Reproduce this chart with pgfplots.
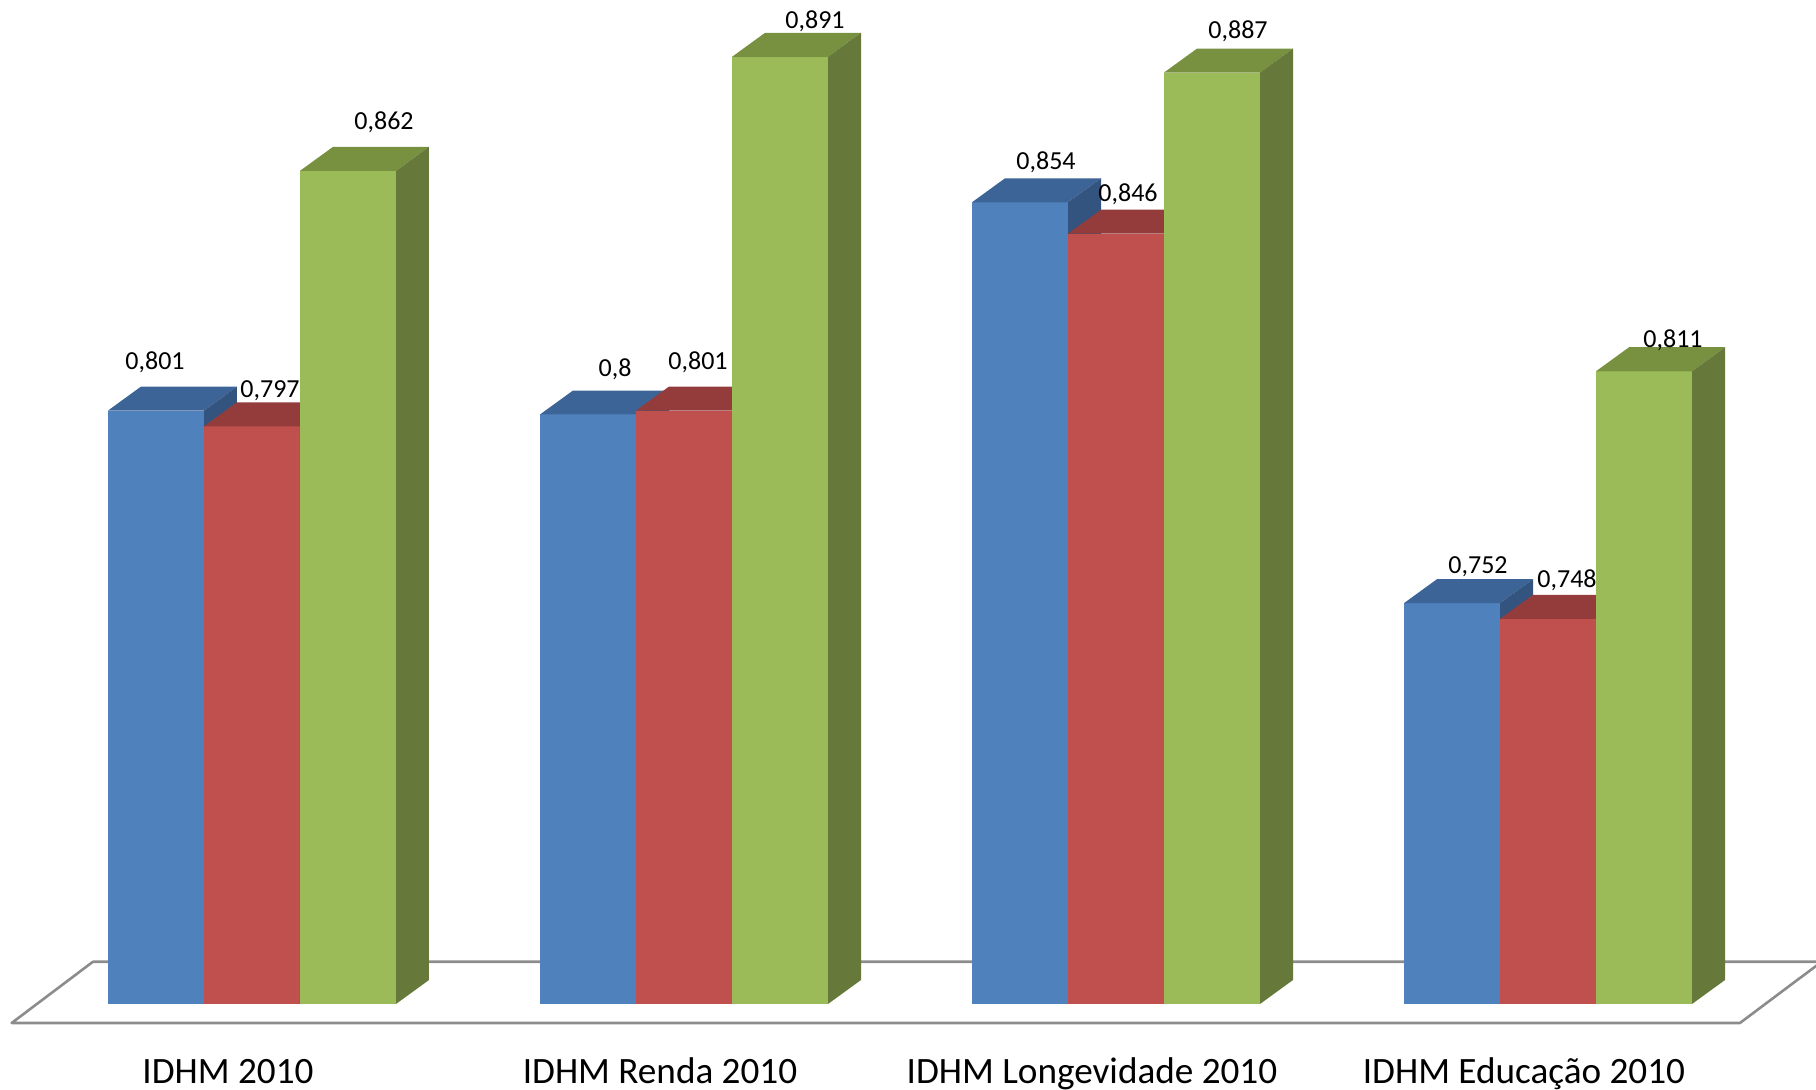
\documentclass[border=0pt]{standalone}
\usepackage{pgfplots}
\usepackage{pgfplotstable}
\pgfplotsset{compat=1.18}
\usepackage{fontspec}
\setmainfont{Carlito}

\definecolor{bfront}{HTML}{4F81BD}
\definecolor{btop}{HTML}{3D6496}
\definecolor{bside}{HTML}{33547E}
\definecolor{rfront}{HTML}{C0504D}
\definecolor{rtop}{HTML}{943C3B}
\definecolor{rside}{HTML}{7F3230}
\definecolor{gfront}{HTML}{9BBB59}
\definecolor{gtop}{HTML}{789140}
\definecolor{gside}{HTML}{66793A}
\definecolor{floorgray}{HTML}{8C8C8C}

% values per category (rows 0..3)
\pgfplotstableread{
cat blue red green
0 0.801 0.797 0.862
1 0.800 0.801 0.891
2 0.854 0.846 0.887
3 0.752 0.748 0.811
}\idhm

% data labels: x = front-face centre, v = value, dx/up = offset in px
\pgfplotstableread{
x v dx up lab
-0.2222 0.801 -1 48.6 0,801
0.0000 0.797 18 36 0,797
0.2222 0.862 36 49 0,862
0.7778 0.800 27 45.5 0,8
1.0000 0.801 14 48.6 0,801
1.2222 0.891 35 36 0,891
1.7778 0.854 26 40 0,854
2.0000 0.846 12 39 0,846
2.2222 0.887 26 41 0,887
2.7778 0.752 26 36 0,752
3.0000 0.748 19 39 0,748
3.2222 0.811 29 31 0,811
}\labels

\def\bw{0.22222}
\def\ddx{0.07639}
\def\ddy{0.00611}
\def\base{0.65}

\newcommand{\threedbar}[5]{%
  \pgfmathsetmacro\xa{#1}%
  \pgfmathsetmacro\xb{#1+\bw}%
  \pgfmathsetmacro\xc{#1+\ddx}%
  \pgfmathsetmacro\xd{#1+\bw+\ddx}%
  \pgfmathsetmacro\yt{#2}%
  \pgfmathsetmacro\ytt{#2+\ddy}%
  \pgfmathsetmacro\yb{\base}%
  \pgfmathsetmacro\ybb{\base+\ddy}%
  \edef\temp{%
    \noexpand\addplot[fill=#3, draw=none] coordinates {(\xa,\yb) (\xb,\yb) (\xb,\yt) (\xa,\yt)};
    \noexpand\addplot[fill=#4, draw=none] coordinates {(\xa,\yt) (\xb,\yt) (\xd,\ytt) (\xc,\ytt)};
    \noexpand\addplot[fill=#5, draw=none] coordinates {(\xb,\yb) (\xd,\ybb) (\xd,\ytt) (\xb,\yt)};
  }\temp
}

\begin{document}
\begin{tikzpicture}
\begin{axis}[
  scale only axis,
  width=908pt, height=545pt,
  xmin=-0.58333, xmax=3.62037,
  ymin=0.628117, ymax=0.905471,
  axis line style={draw=none},
  major tick length=0pt,
  ytick=\empty,
  xtick={-0.0556,0.9444,1.9444,2.9444},
  xticklabels={IDHM 2010, IDHM Renda 2010, IDHM Longevidade 2010, IDHM Educação 2010},
  xticklabel style={font=\fontsize{18.6}{21}\selectfont, anchor=base, yshift=3.3pt},
]
\coordinate (bl) at (rel axis cs:0,0);
\coordinate (tr) at (rel axis cs:1,1);

% floor
\addplot[draw=floorgray, line width=1.3pt, line join=round] coordinates {
  (-0.36806,0.66076) (-0.55625,0.64517) (3.44444,0.64517) (3.6336,0.66076) (-0.36806,0.66076)};

\pgfplotsforeachungrouped \i in {0,1,2,3}{%
  \pgfplotstablegetelem{\i}{blue}\of\idhm \edef\vb{\pgfplotsretval}%
  \pgfplotstablegetelem{\i}{red}\of\idhm \edef\vr{\pgfplotsretval}%
  \pgfplotstablegetelem{\i}{green}\of\idhm \edef\vg{\pgfplotsretval}%
  \threedbar{\i-0.33333}{\vb}{bfront}{btop}{bside}%
  \threedbar{\i-0.11111}{\vr}{rfront}{rtop}{rside}%
  \threedbar{\i+0.11111}{\vg}{gfront}{gtop}{gside}%
}

% data labels
\addplot[draw=none, mark=none,
  nodes near coords,
  point meta=explicit symbolic,
  visualization depends on={\thisrow{dx} \as \ldx},
  visualization depends on={\thisrow{up} \as \lup},
  every node near coord/.style={anchor=center, inner sep=0pt,
    xshift=\ldx*0.5pt, yshift=\lup*0.5pt,
    font=\fontsize{13}{15}\selectfont},
] table[x=x, y=v, meta=lab] {\labels};
\end{axis}
\pgfresetboundingbox
\path[use as bounding box] (bl) rectangle (tr);
\end{tikzpicture}
\end{document}
